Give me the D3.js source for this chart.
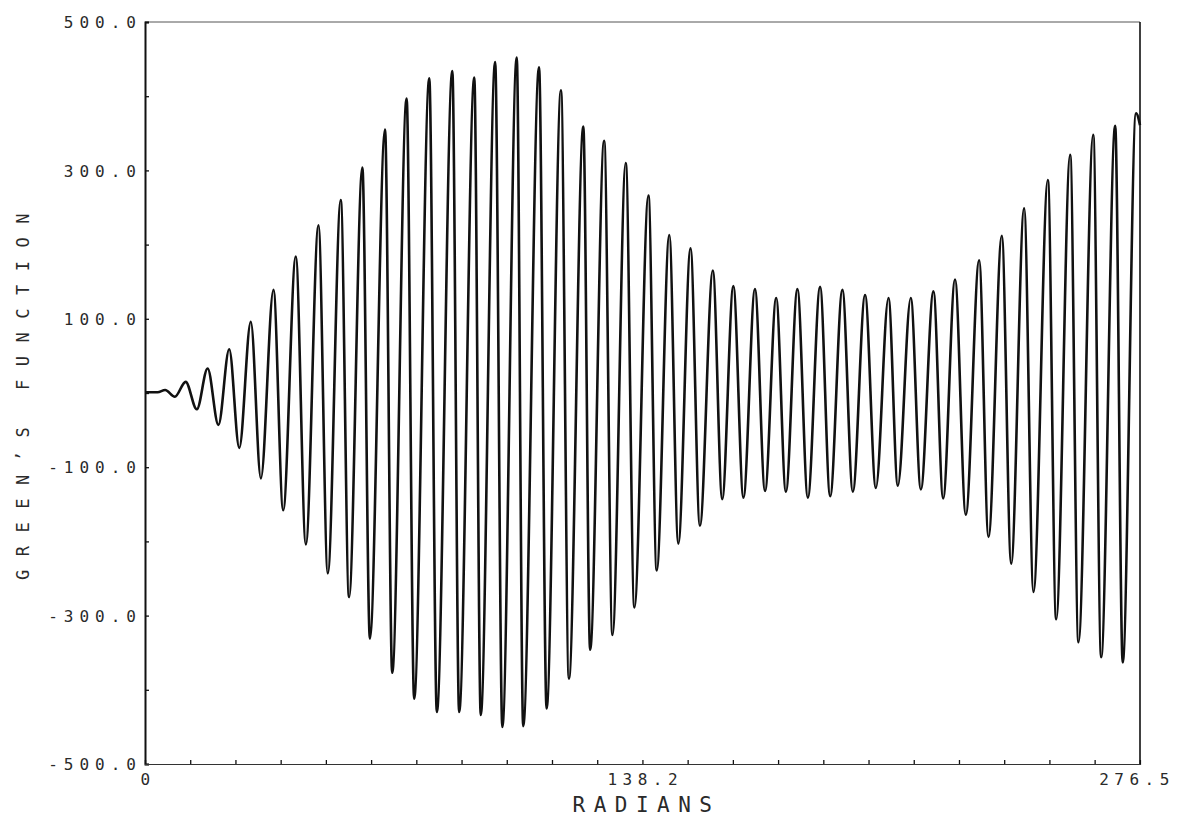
<!DOCTYPE html>
<html>
<head>
<meta charset="utf-8">
<script src="https://cdn.jsdelivr.net/npm/d3@7"></script>
<style>
  body { margin: 0; background: #fff; }
  svg text { font-family: "DejaVu Sans Mono", "Liberation Mono", monospace; fill: #2a2a2a; }
</style>
</head>
<body>
<div id="chart"></div>
<script>
// extrema of the Green's function (x in radians)
const radians = [0, 3.5, 5.6, 8.3, 11.3, 14.4, 17.4, 20.4, 23.4, 26.2, 29.4, 32.2,
  35.7, 38.4, 41.9, 44.7, 48.2, 50.8, 54.4, 56.7, 60.4, 62.5, 66.7, 68.7, 72.7, 74.8,
  79.0, 81.1, 85.4, 87.3, 91.5, 93.3, 97.3, 99.3, 103.3, 105.1, 109.5, 111.6, 115.6,
  117.8, 121.8, 123.7, 127.6, 129.9, 133.6, 136.0, 139.9, 142.2, 145.7, 148.2, 151.6,
  154.2, 157.8, 160.4, 163.5, 166.3, 169.5, 172.3, 175.4, 178.1, 181.3, 184.2, 187.6,
  190.4, 193.8, 196.7, 200.1, 203.1, 206.6, 209.2, 212.8, 215.6, 219.1, 221.8, 225.1,
  228.1, 231.8, 234.4, 238.1, 240.7, 244.3, 246.9, 250.9, 253.2, 257.1, 259.4, 263.5,
  265.7, 269.6, 271.7, 275.4, 276.5];
const greens = [1, 1, 4, -5, 15, -22, 33, -43, 59, -74, 96, -115,
  139, -158, 184, -204, 226, -243, 260, -275, 304, -331, 355, -377, 397, -412,
  424, -430, 434, -430, 425, -434, 446, -450, 452, -449, 439, -425, 408,
  -385, 359, -346, 340, -326, 310, -289, 266, -239, 213, -203, 195,
  -179, 165, -143, 144, -141, 140, -132, 128, -133, 140, -141, 143,
  -139, 139, -133, 132, -128, 128, -125, 128, -130, 137, -142, 153,
  -164, 179, -194, 212, -230, 249, -268, 287, -305, 321, -336, 348,
  -356, 360, -363, 377, 361];

const yTicks = [-500, -400, -300, -200, -100, 0, 100, 200, 300, 400, 500];
const yLabels = [500, 300, 100, -100, -300, -500];
const xTicks = [0, 12.566, 25.133, 37.699, 50.265, 62.832, 75.398, 87.965, 100.531,
  113.097, 125.664, 138.230, 150.796, 163.363, 175.929, 188.496, 201.062, 213.628,
  226.195, 238.761, 251.327, 263.894, 276.460];
const xLabels = ["0", "138.2", "276.5"];

const width = 1180, height = 824;
const margin = { top: 22, right: 40, bottom: 60, left: 145 };

const svg = d3.select("#chart").append("svg")
  .attr("width", width)
  .attr("height", height);

const x = d3.scaleLinear()
  .domain([0, 276.5])
  .range([margin.left, width - margin.right]);

const y = d3.scaleLinear()
  .domain([-500, 500])
  .range([height - margin.bottom, margin.top]);

// frame: thin top, heavier right side
svg.append("line")
  .attr("x1", x(0)).attr("x2", x(276.5))
  .attr("y1", y(500)).attr("y2", y(500))
  .attr("stroke", "#555").attr("stroke-width", 1);
svg.append("line")
  .attr("x1", x(276.5)).attr("x2", x(276.5))
  .attr("y1", y(500)).attr("y2", y(-500))
  .attr("stroke", "#111").attr("stroke-width", 1.6);

// y axis, ticks point inward
const yAxis = svg.append("g")
  .attr("transform", `translate(${x(0)},0)`)
  .call(d3.axisLeft(y)
    .tickValues(yTicks)
    .tickSize(-4)
    .tickPadding(9)
    .tickFormat(d => yLabels.includes(d) ? d.toFixed(1) : ""));
yAxis.select(".domain").attr("stroke", "#111").attr("stroke-width", 2);
yAxis.selectAll(".tick line").attr("stroke", "#111").attr("stroke-width", 1.3);
yAxis.selectAll(".tick text")
  .attr("font-size", 16)
  .attr("letter-spacing", 6)
  .attr("dx", 6)
  .attr("dy", "0.36em")
  .attr("fill", "#2a2a2a");

// x axis
const xAxis = svg.append("g")
  .attr("transform", `translate(0,${y(-500)})`)
  .call(d3.axisBottom(x)
    .tickValues(xTicks)
    .tickSize(-4)
    .tickPadding(9)
    .tickFormat(() => ""));
xAxis.select(".domain").attr("stroke", "#333").attr("stroke-width", 1.2);
xAxis.selectAll(".tick line").attr("stroke", "#111").attr("stroke-width", 1.3);

svg.append("g")
  .selectAll("text")
  .data(xLabels)
  .join("text")
  .attr("x", d => x(+d))
  .attr("y", y(-500) + 21)
  .attr("dx", (d, i) => i === xLabels.length - 1 ? -3 : 3)
  .attr("text-anchor", "middle")
  .attr("font-size", 16)
  .attr("letter-spacing", 5.5)
  .text(d => d);

// the curve
const line = d3.line()
  .x((d, i) => x(radians[i]))
  .y(d => y(d))
  .curve(d3.curveMonotoneX);

svg.append("path")
  .datum(greens)
  .attr("d", line)
  .attr("fill", "none")
  .attr("stroke", "#111")
  .attr("stroke-width", 2.6)
  .attr("stroke-linejoin", "round");

// axis titles
svg.append("text")
  .attr("x", x(138.25) + 4)
  .attr("y", 812)
  .attr("text-anchor", "middle")
  .attr("font-size", 21)
  .attr("letter-spacing", 8.5)
  .text("RADIANS");

svg.append("text")
  .attr("transform", `translate(29,${y(0) - 3}) rotate(-90)`)
  .attr("text-anchor", "middle")
  .attr("font-size", 17)
  .attr("letter-spacing", 13.5)
  .attr("fill", "#444")
  .text("GREEN’S FUNCTION");
</script>
</body>
</html>
